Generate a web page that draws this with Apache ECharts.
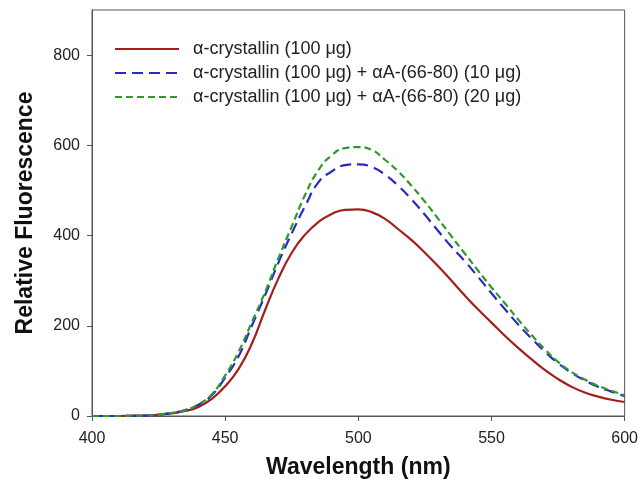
<!DOCTYPE html>
<html><head><meta charset="utf-8">
<script src="https://cdn.jsdelivr.net/npm/echarts@6/dist/echarts.min.js"></script>
<style>html,body{margin:0;padding:0;background:#fff}#c{width:641px;height:491px}</style>
</head><body><div id="c"></div>
<script>
var wavelengths = [400,405,410,415,420,425,430,435,440,445,450,455,460,465,470,475,480,485,490,495,500,505,510,515,520,525,530,535,540,545,550,555,560,565,570,575,580,585,590,595,600];
var red   = [0,0,0,0.5,1,3,6,11,20,38,66,104,160,235,305,362,402,430,448,457,458,452,437,414,390,362,332,300,267,236,207,178,151,126,102,82,65,52,43,36,31];
var blue  = [0,0,0,0.5,1,3,7,13,25,46,85,132,200,268,340,405,465,518,542,556,558,552,535,510,480,446,410,375,343,308,272,237,203,172,143,117,96,79,65,54,44];
var green = [0,0,0,0.5,1,3,7,13,26,48,90,142,208,275,350,420,490,545,578,594,596,590,568,542,510,475,437,398,360,322,285,250,214,180,148,120,98,81,67,56,46];
var names = ['α-crystallin (100 μg)','α-crystallin (100 μg) + αA-(66-80) (10 μg)','α-crystallin (100 μg) + αA-(66-80) (20 μg)'];
var xTicks = [400,450,500,550,600];
var yTicks = [0,200,400,600,800];
function pairs(v){return wavelengths.map(function(w,i){return [w,v[i]];});}
var chart = echarts.init(document.getElementById('c'));
var font = 'Liberation Sans, Arial, sans-serif';
chart.setOption({
  animation:false,
  grid:{left:92,top:10,right:16,bottom:75,show:true,borderColor:'#555',borderWidth:1},
  legend:{left:109,top:35,orient:'vertical',itemWidth:64,itemHeight:14,itemGap:6,
    itemStyle:{opacity:0},
    textStyle:{fontFamily:font,fontSize:18,color:'#222',padding:[0,0,0,9]},
    data:names},
  xAxis:{type:'value',min:400,max:600,interval:50,
    name:'Wavelength (nm)',nameLocation:'middle',nameGap:40,
    nameTextStyle:{fontFamily:font,fontSize:23,fontWeight:'bold',color:'#111'},
    axisLine:{lineStyle:{color:'#555'}},axisTick:{show:true,length:5,lineStyle:{color:'#555'},customValues:xTicks},
    axisLabel:{fontFamily:font,fontSize:16,color:'#222',margin:15,customValues:xTicks},splitLine:{show:false}},
  yAxis:{type:'value',min:0,max:900,interval:200,
    name:'Relative Fluorescence',nameLocation:'middle',nameGap:55,
    nameTextStyle:{fontFamily:font,fontSize:23,fontWeight:'bold',color:'#111'},
    axisLine:{show:true,lineStyle:{color:'#555'}},axisTick:{show:true,length:5,lineStyle:{color:'#555'},customValues:yTicks},
    axisLabel:{fontFamily:font,fontSize:16,color:'#222',margin:12,customValues:yTicks},splitLine:{show:false}},
  series:[
    {name:names[0],type:'line',data:pairs(red),smooth:true,showSymbol:false,symbol:'none',
     lineStyle:{color:'#a31f1f',width:2.2,type:'solid'},itemStyle:{color:'#a31f1f'}},
    {name:names[1],type:'line',data:pairs(blue),smooth:true,showSymbol:false,symbol:'none',
     lineStyle:{color:'#2a2ac0',width:2.2,type:[11,6]},itemStyle:{color:'#2a2ac0'}},
    {name:names[2],type:'line',data:pairs(green),smooth:true,showSymbol:false,symbol:'none',
     lineStyle:{color:'#2e9a2e',width:2.2,type:[7,4]},itemStyle:{color:'#2e9a2e'}}
  ]
});
</script></body></html>
